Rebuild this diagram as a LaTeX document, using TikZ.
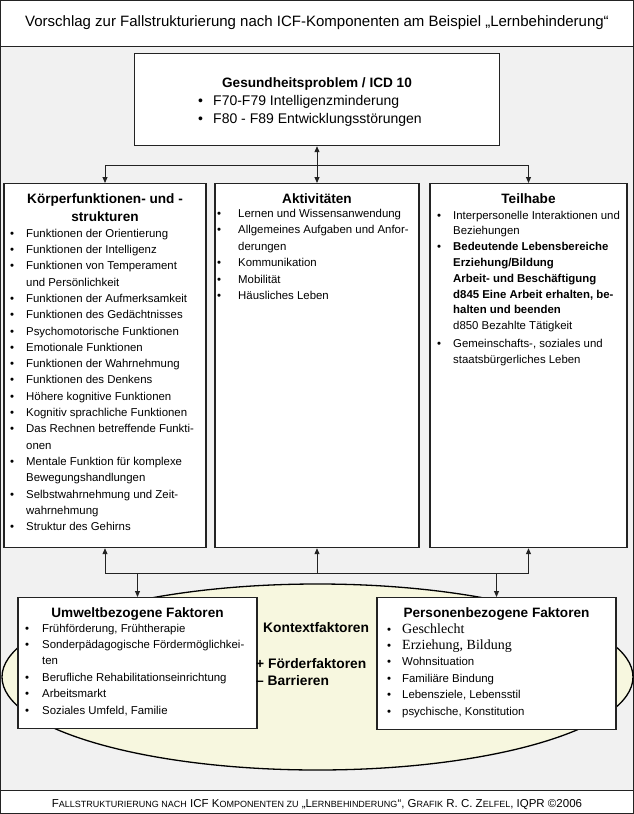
\documentclass[tikz,border=0pt]{standalone}
\usepackage{fontspec}
\setmainfont{Liberation Sans}
\newfontfamily\serifface{Liberation Serif}
\usetikzlibrary{arrows.meta,shapes.geometric}
\definecolor{bggrey}{RGB}{241,241,241}
\definecolor{ctxfill}{RGB}{247,247,223}
\definecolor{linecol}{RGB}{35,35,35}
\newcommand\bul{\makebox[16pt][l]{\textbullet}}
\newcommand\ind{\hspace*{16pt}}
\newcommand\bulw{\makebox[21pt][l]{\textbullet}}
\newcommand\indw{\hspace*{21pt}}
\newcommand\bult{\makebox[15pt][l]{\textbullet}}
\newcommand\fsc[1]{{\fontsize{9}{11}\selectfont #1}}
\tikzset{
  box/.style={draw=linecol, fill=white, line width=1.2pt, inner sep=0pt, anchor=north},
  head/.style={font=\bfseries\fontsize{13.6}{18}\selectfont, align=center, inner sep=0pt},
  body/.style={font=\fontsize{11.4}{16.3}\selectfont, align=left, inner sep=0pt, anchor=north west},
  arr/.style={draw=linecol, line width=0.9pt, -{Triangle[length=6pt,width=5pt]}},
  dbl/.style={draw=linecol, line width=0.9pt, {Triangle[length=6pt,width=5pt]}-{Triangle[length=6pt,width=5pt]}},
  plain/.style={draw=linecol, line width=0.9pt}
}
\begin{document}
\begin{tikzpicture}[x=1pt,y=-1pt]
\useasboundingbox (0,0) rectangle (634,814);
% bands
\fill[white] (0,0) rectangle (634,814);
\fill[bggrey] (0,46) rectangle (634,790);
\draw[linecol, line width=1pt] (0.5,0.5) rectangle (633.5,813.5);
\draw[linecol, line width=1pt] (0,46) -- (634,46);
\draw[linecol, line width=1pt] (0,790) -- (634,790);
% title and footer
\node[font=\fontsize{15}{18}\selectfont, inner sep=0pt, anchor=base] (title) at (317,26)
  {Vorschlag zur Fallstrukturierung nach ICF-Komponenten am Beispiel „Lernbehinderung“};
\node[font=\fontsize{11.5}{13}\selectfont, inner sep=0pt, anchor=base] (footer) at (317,807)
  {F\fsc{ALLSTRUKTURIERUNG NACH} ICF K\fsc{OMPONENTEN ZU} „L\fsc{ERNBEHINDERUNG}“, G\fsc{RAFIK} R. C. Z\fsc{ELFEL}, IQPR ©2006};
% context ellipse
\node[ellipse, draw=black, line width=1.3pt, fill=ctxfill, minimum width=631pt, minimum height=186pt, inner sep=0pt] (ctx) at (317.5,677) {};
% boxes
\node[box, minimum width=365pt, minimum height=92pt] (gp) at (317,53) {};
\node[box, minimum width=202pt, minimum height=364pt] (koerper) at (105,183) {};
\node[box, minimum width=204pt, minimum height=364pt] (akt) at (317,183) {};
\node[box, minimum width=197pt, minimum height=364pt] (teil) at (528.5,183) {};
\node[box, minimum width=239pt, minimum height=131pt] (umw) at (137.5,597) {};
\node[box, minimum width=239pt, minimum height=132pt] (pers) at (496.5,597) {};
% top box text
\node[head, anchor=base] (gphead) at (317,87) {Gesundheitsproblem / ICD 10};
\node[body, font=\fontsize{14}{18}\selectfont] (gpitems) at (198,92.4)
  {\strut\bult F70-F79 Intelligenzminderung\\
   \bult F80 - F89 Entwicklungsstörungen};
% Koerper
\node[head, anchor=north] (khead) at (105,190.4) {\strut Körperfunktionen- und -\\strukturen};
\node[body] (kitems) at (10,225.6)
  {\strut\bul Funktionen der Orientierung\\
   \bul Funktionen der Intelligenz\\
   \bul Funktionen von Temperament\\
   \ind und Persönlichkeit\\
   \bul Funktionen der Aufmerksamkeit\\
   \bul Funktionen des Gedächtnisses\\
   \bul Psychomotorische Funktionen\\
   \bul Emotionale Funktionen\\
   \bul Funktionen der Wahrnehmung\\
   \bul Funktionen des Denkens\\
   \bul Höhere kognitive Funktionen\\
   \bul Kognitiv sprachliche Funktionen\\
   \bul Das Rechnen betreffende Funkti-\\
   \ind onen\\
   \bul Mentale Funktion für komplexe\\
   \ind Bewegungshandlungen\\
   \bul Selbstwahrnehmung und Zeit-\\
   \ind wahrnehmung\\
   \bul Struktur des Gehirns};
% Aktivitaeten
\node[head, anchor=base] (ahead) at (317,203) {Aktivitäten};
\node[body, font=\fontsize{11.4}{16.5}\selectfont] (aitems) at (217,205.5)
  {\strut\bulw Lernen und Wissensanwendung\\
   \bulw Allgemeines Aufgaben und Anfor-\\
   \indw derungen\\
   \bulw Kommunikation\\
   \bulw Mobilität\\
   \bulw Häusliches Leben};
% Teilhabe
\node[head, anchor=base] (thead) at (528.5,203) {Teilhabe};
\node[body, font=\fontsize{11.4}{15.8}\selectfont] (titems) at (437,207.9)
  {\strut\bul Interpersonelle Interaktionen und\\
   \ind Beziehungen\\
   \bul \textbf{Bedeutende Lebensbereiche}\\
   \ind \textbf{Erziehung/Bildung}\\
   \ind \textbf{Arbeit- und Beschäftigung}\\
   \ind \textbf{d845 Eine Arbeit erhalten, be-}\\
   \ind \textbf{halten und beenden}\\
   \ind d850 Bezahlte Tätigkeit\\[2pt]
   \bul Gemeinschafts-, soziales und\\
   \ind staatsbürgerliches Leben};
% Umwelt
\node[head, anchor=base] (uhead) at (137.5,617) {Umweltbezogene Faktoren};
\node[body, font=\fontsize{11.4}{16.4}\selectfont] (uitems) at (25,620.5)
  {\strut\makebox[17pt][l]{\textbullet}Frühförderung, Frühtherapie\\
   \makebox[17pt][l]{\textbullet}Sonderpädagogische Fördermöglichkei-\\
   \hspace*{17pt}ten\\
   \makebox[17pt][l]{\textbullet}Berufliche Rehabilitationseinrichtung\\
   \makebox[17pt][l]{\textbullet}Arbeitsmarkt\\
   \makebox[17pt][l]{\textbullet}Soziales Umfeld, Familie};
% Personen
\node[head, anchor=base] (phead) at (496.5,617) {Personenbezogene Faktoren};
\node[body, font=\fontsize{11.4}{16.4}\selectfont] (pitems) at (387,621.5)
  {\strut\bult{\serifface\fontsize{14}{16.4}\selectfont Geschlecht}\\
   \bult{\serifface\fontsize{14}{16.4}\selectfont Erziehung, Bildung}\\
   \bult Wohnsituation\\
   \bult Familiäre Bindung\\
   \bult Lebensziele, Lebensstil\\
   \bult psychische, Konstitution};
% Kontext labels
\node[font=\bfseries\fontsize{13.8}{17}\selectfont, inner sep=0pt, anchor=base west] (ctxlabel) at (263,632) {Kontextfaktoren};
\node[font=\bfseries\fontsize{13.8}{17}\selectfont, inner sep=0pt, anchor=base west] (foerder) at (256,668) {+ Förderfaktoren};
\node[font=\bfseries\fontsize{13.8}{17}\selectfont, inner sep=0pt, anchor=base west] (barr) at (256,685) {– Barrieren};
% connectors top
\coordinate (hy) at (0,165);
\coordinate (kt) at (koerper.north |- hy);
\coordinate (tt) at (teil.north |- hy);
\draw[plain] (kt) -- (tt);
\draw[dbl] (gp.south) -- (akt.north);
\draw[arr] (kt) -- (koerper.north);
\draw[arr] (tt) -- (teil.north);
% connectors bottom
\coordinate (ly) at (0,573);
\coordinate (kb) at (koerper.south |- ly);
\coordinate (ab) at (akt.south |- ly);
\coordinate (tb) at (teil.south |- ly);
\coordinate (ub) at (umw.north |- ly);
\coordinate (pb) at (pers.north |- ly);
\draw[plain] (kb) -- (tb);
\draw[arr] (kb) -- (koerper.south);
\draw[arr] (ab) -- (akt.south);
\draw[arr] (tb) -- (teil.south);
\draw[arr] (ub) -- (umw.north);
\draw[arr] (pb) -- (pers.north);
\end{tikzpicture}
\end{document}
